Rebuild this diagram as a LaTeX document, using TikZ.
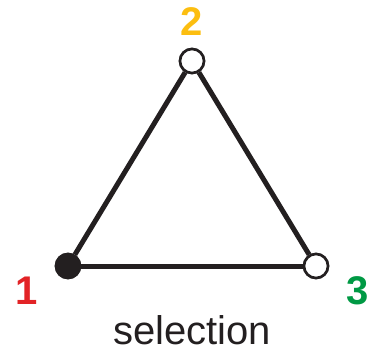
\documentclass[tikz,border=0pt]{standalone}
\usepackage{fontspec}
\setmainfont{Liberation Sans}
\definecolor{lblred}{RGB}{226,35,38}
\definecolor{lblyellow}{RGB}{252,190,16}
\definecolor{lblgreen}{RGB}{0,153,68}
\definecolor{ink}{RGB}{35,31,32}
\begin{document}
\begin{tikzpicture}[x=1pt,y=-1pt,
  vert/.style={circle,draw=ink,line width=2.6pt,minimum size=24pt,inner sep=0pt},
  edge/.style={draw=ink,line width=5pt},
  lbl/.style={font=\fontsize{40}{40}\selectfont\bfseries,inner sep=0pt}]
\useasboundingbox (0,0) rectangle (379,354);
\node[vert,fill=ink] (n1) at (68,266) {};
\node[vert,fill=white] (n2) at (192,61) {};
\node[vert,fill=white] (n3) at (316,266) {};
\draw[edge] (n1) -- (n2);
\draw[edge] (n2) -- (n3);
\draw[edge] (n1) -- (n3);
\node[vert,fill=ink] at (n1) {};
\node[vert,fill=white] at (n2) {};
\node[vert,fill=white] at (n3) {};
\node[lbl,text=lblred] (l1) at (27,291) {1};
\node[lbl,text=lblyellow] (l2) at (192,22) {2};
\node[lbl,text=lblgreen] (l3) at (358,291) {3};
\node[font=\fontsize{40}{40}\selectfont,inner sep=0pt,text=ink] (cap) at (192,330) {selection};
\end{tikzpicture}
\end{document}
